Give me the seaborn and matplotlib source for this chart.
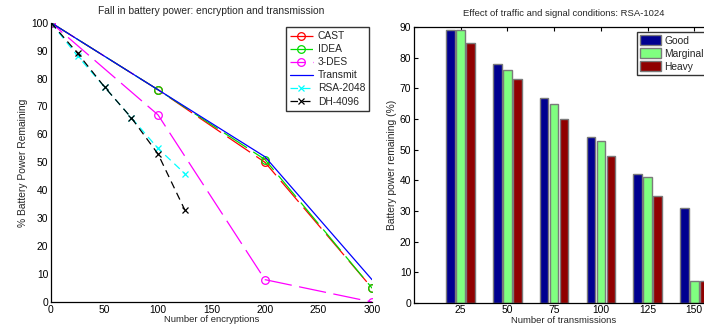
import matplotlib
matplotlib.use("Agg")
import matplotlib.pyplot as plt
import seaborn as sns
import pandas as pd

# ---- data: left panel (battery power vs number of encryptions) ----
enc_x = [0, 100, 200, 300]
cast = [100, 76, 50, 5]
idea = [100, 76, 51, 5]
des3 = [100, 67, 8, 0]
transmit = [100, 76, 52, 8]
pk_x = [0, 25, 50, 75, 100, 125]
rsa2048 = [100, 88, 77, 66, 55, 46]
dh4096 = [100, 89, 77, 66, 53, 33]

# ---- data: right panel (traffic / signal conditions) ----
transmissions = [25, 50, 75, 100, 125, 150]
good = [89, 78, 67, 54, 42, 31]
marginal = [89, 76, 65, 53, 41, 7]
heavy = [85, 73, 60, 48, 35, 7]
conditions = ["Good", "Marginal", "Heavy"]

sns.set_theme(style="white")
plt.rcParams["font.family"] = ["Liberation Sans", "DejaVu Sans"]
plt.rcParams["xtick.direction"] = "in"
plt.rcParams["ytick.direction"] = "in"
plt.rcParams["axes.edgecolor"] = "black"
plt.rcParams["axes.linewidth"] = 0.9

fig = plt.figure(figsize=(7.04, 3.26), dpi=100)
W, H = 704, 326
ax1 = fig.add_axes([51 / W, 24 / H, 321 / W, 279.3 / H])
ax2 = fig.add_axes([414 / W, 23.3 / H, 299 / W, 275.4 / H])

FS = 7.4
lw = 0.9
longdash = (0, (22, 6))

def line(x, y, color, label, marker=None, ls="-", ms=5.5):
    kw = dict(color=color, linewidth=lw, linestyle=ls, label=label, ax=ax1)
    if marker is not None:
        kw.update(marker=marker, markersize=ms, markerfacecolor="none",
                  markeredgecolor=color, markeredgewidth=0.9)
    sns.lineplot(x=x, y=y, **kw)

line(enc_x, cast, "#ff0000", "CAST", marker="o", ls=longdash)
line(enc_x, idea, "#00dd00", "IDEA", marker="o", ls=(4, (22, 6)))
line(enc_x, des3, "#ff00ff", "3-DES", marker="o", ls=(10, (22, 6)))
line(enc_x, transmit, "#0000ff", "Transmit")
line(pk_x, rsa2048, "#00ffff", "RSA-2048", marker="x", ls=(0, (6, 4)), ms=4)
line(pk_x, dh4096, "#000000", "DH-4096", marker="x", ls=(0, (6, 4)), ms=4)

ax1.set_xlim(0, 300)
ax1.set_ylim(0, 100)
ax1.set_xticks(range(0, 301, 50))
ax1.set_yticks(range(0, 101, 10))
ax1.tick_params(labelsize=FS, length=3, width=0.8, colors="black", pad=2)
ax1.spines["top"].set_visible(False)
ax1.spines["right"].set_visible(False)
ax1.set_title("Fall in battery power: encryption and transmission", fontsize=FS, pad=6)
ax1.set_xlabel("Number of encryptions", fontsize=FS - 0.6, labelpad=0.5)
ax1.set_ylabel("% Battery Power Remaining", fontsize=FS, labelpad=2)

h, l = ax1.get_legend_handles_labels()
leg1 = ax1.legend(h, l, loc="upper left", bbox_to_anchor=(286 / W, 299 / H),
                  bbox_transform=fig.transFigure, borderaxespad=0,
                  fontsize=FS, frameon=True, fancybox=False, handlelength=2.2,
                  handletextpad=0.5, labelspacing=0.3, borderpad=0.4)
leg1.get_frame().set_edgecolor("black")
leg1.get_frame().set_linewidth(1.0)

# ---- right panel: grouped bars ----
df = pd.DataFrame({
    "n": transmissions * 3,
    "val": good + marginal + heavy,
    "cond": [c for c in conditions for _ in transmissions],
})
sns.barplot(data=df, x="n", y="val", hue="cond", hue_order=conditions,
            native_scale=True, palette=["#000090", "#80ff80", "#900000"],
            saturation=1, width=0.643, gap=0.15, edgecolor="#7a7a7a",
            linewidth=1.0, errorbar=None, ax=ax2)
ax2.set_xlim(0, 160)
ax2.set_ylim(0, 90)
ax2.set_xticks(transmissions)
ax2.set_xticklabels([str(t) for t in transmissions])
ax2.set_yticks(range(0, 91, 10))
ax2.tick_params(labelsize=FS, length=3, width=0.8, colors="black", pad=2,
                top=True, right=True, bottom=True, left=True)
ax2.set_title("Effect of traffic and signal conditions: RSA-1024", fontsize=FS - 0.6, pad=8)
ax2.set_xlabel("Number of transmissions", fontsize=FS - 0.6, labelpad=0.5)
ax2.set_ylabel("Battery power remaining (%)", fontsize=FS, labelpad=2)

h2, l2 = ax2.get_legend_handles_labels()
leg2 = ax2.legend(h2, l2, loc="upper left", bbox_to_anchor=(637 / W, 294 / H),
                  bbox_transform=fig.transFigure, borderaxespad=0,
                  fontsize=FS, frameon=True, fancybox=False, handlelength=2.0,
                  handleheight=1.1, handletextpad=0.35, labelspacing=0.25,
                  borderpad=0.3)
leg2.get_frame().set_edgecolor("black")
leg2.get_frame().set_linewidth(1.0)

fig.savefig("out.png", dpi=100)
